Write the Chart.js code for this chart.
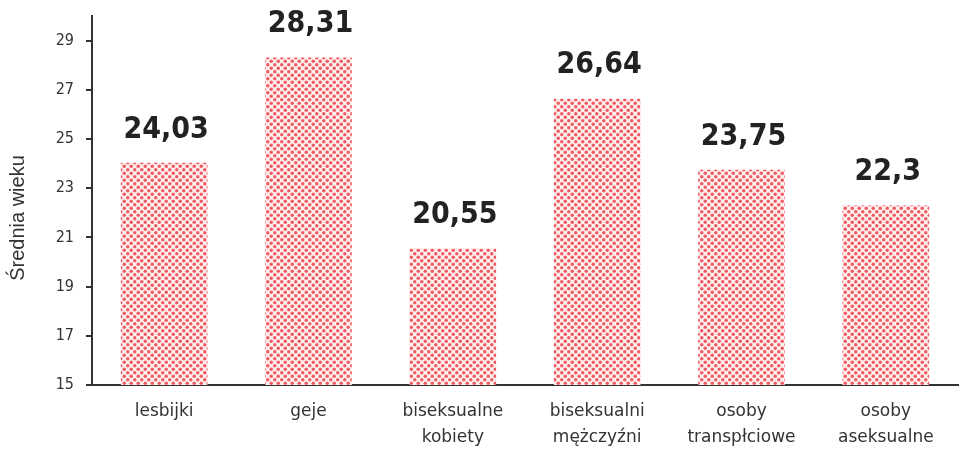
<!DOCTYPE html>
<html>
<head>
    <meta charset="utf-8">
    <script src="https://cdn.jsdelivr.net/npm/chart.js"></script>
    <title>Średnia wieku</title>
    <style>
        html, body { margin: 0; padding: 0; background: #fff; }
        #wrap { width: 959px; height: 452px; position: relative; }
    </style>
</head>
<body>
    <div id="wrap"><canvas id="chart"></canvas></div>

    <script>
        const categories = [
            ['lesbijki'],
            ['geje'],
            ['biseksualne', 'kobiety'],
            ['biseksualni', 'mężczyźni'],
            ['osoby', 'transpłciowe'],
            ['osoby', 'aseksualne']
        ];
        const averageAge = [24.03, 28.31, 20.55, 26.64, 23.75, 22.3];
        const yTicks = [15, 17, 19, 21, 23, 25, 27, 29];
        const yTitle = 'Średnia wieku';

        const FONT = "'DejaVu Sans Condensed', 'DejaVu Sans', sans-serif";

        // dotted fill like the original
        function dotPattern() {
            const c = document.createElement('canvas');
            c.width = 7; c.height = 7;
            const g = c.getContext('2d');
            g.fillStyle = '#fff0f0';
            g.fillRect(0, 0, 7, 7);
            g.fillStyle = '#f25a62';
            [[1.75, 1.75], [5.25, 5.25]].forEach(([x, y]) => {
                g.beginPath();
                g.arc(x, y, 1.75, 0, Math.PI * 2);
                g.fill();
            });
            return g.createPattern(c, 'repeat');
        }

        const extras = {
            id: 'extras',
            afterDatasetsDraw(chart) {
                const ctx = chart.ctx;
                const meta = chart.getDatasetMeta(0);
                ctx.save();
                ctx.font = 'bold 30px ' + FONT;
                ctx.fillStyle = '#222';
                ctx.textAlign = 'center';
                ctx.textBaseline = 'middle';
                meta.data.forEach((bar, i) => {
                    const txt = String(averageAge[i]).replace('.', ',');
                    ctx.fillText(txt, bar.x + 2, bar.y - 33);
                });
                // y axis title, a bit below the plot centre as in the original
                ctx.translate(18, 218);
                ctx.rotate(-Math.PI / 2);
                ctx.font = "20px 'Liberation Sans', Arial, sans-serif";
                ctx.fillStyle = '#333';
                ctx.fillText(yTitle, 0, 0);
                ctx.restore();
            }
        };

        const ctx = document.getElementById('chart').getContext('2d');
        new Chart(ctx, {
            type: 'bar',
            data: {
                labels: categories,
                datasets: [{
                    data: averageAge,
                    backgroundColor: dotPattern(),
                    borderWidth: 0,
                    barPercentage: 0.6,
                    categoryPercentage: 1
                }]
            },
            options: {
                responsive: true,
                maintainAspectRatio: false,
                animation: false,
                layout: { padding: { top: 16, right: 1, left: 0, bottom: 0 } },
                plugins: {
                    legend: { display: false },
                    tooltip: { enabled: false }
                },
                scales: {
                    x: {
                        grid: { display: false, drawTicks: false },
                        border: { display: true, color: '#333', width: 2 },
                        ticks: {
                            color: '#333',
                            font: { family: "'DejaVu Sans', sans-serif", size: 17, lineHeight: 1.5 },
                            padding: 14,
                            maxRotation: 0,
                            autoSkip: false
                        },
                        afterFit(scale) {
                            scale.height = 67;
                            scale.paddingLeft = 0;
                            scale.paddingRight = 0;
                        }
                    },
                    y: {
                        min: 15,
                        max: 30,
                        afterBuildTicks(scale) {
                            scale.ticks = yTicks.map(v => ({ value: v }));
                        },
                        grid: {
                            drawOnChartArea: false,
                            drawTicks: true,
                            tickLength: 6,
                            color: '#333',
                            lineWidth: 2
                        },
                        border: { display: true, color: '#333', width: 2 },
                        ticks: {
                            color: '#333',
                            font: { family: FONT, size: 16 },
                            padding: 12
                        },
                        afterFit(scale) {
                            scale.width = 92;
                            scale.paddingTop = 0;
                            scale.paddingBottom = 0;
                        }
                    }
                }
            },
            plugins: [extras]
        });
    </script>
</body>
</html>
